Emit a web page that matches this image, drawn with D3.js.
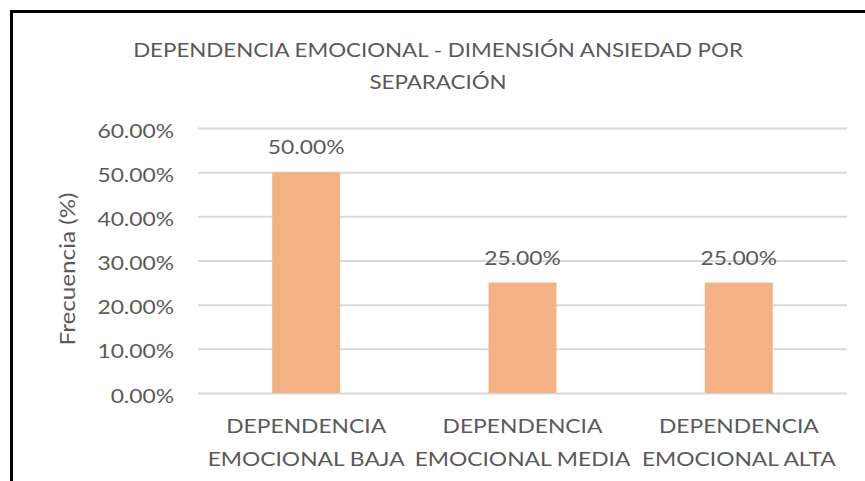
<!DOCTYPE html>
<html><head><meta charset="utf-8">
<script src="https://cdn.jsdelivr.net/npm/d3@7"></script>
<style>body{margin:0;background:#fff}svg{display:block}text{font-family:Lato,"Open Sans",sans-serif;fill:#595959}</style>
</head><body>
<script>
const titleLines = ["DEPENDENCIA EMOCIONAL - DIMENSIÓN ANSIEDAD POR", "SEPARACIÓN"];
const categories = [["DEPENDENCIA","EMOCIONAL BAJA"],["DEPENDENCIA","EMOCIONAL MEDIA"],["DEPENDENCIA","EMOCIONAL ALTA"]];
const values = [0.50, 0.25, 0.25];
const yTicks = [0, 0.1, 0.2, 0.3, 0.4, 0.5, 0.6];
const yTitle = "Frecuencia (%)";

const W = 865, H = 481, SX = 1.17;
const svg = d3.select("body").append("svg").attr("width", W).attr("height", H);

const x = d3.scaleBand().domain(d3.range(values.length)).range([198, 847]).paddingInner(0.686).paddingOuter(0.343);
const y = d3.scaleLinear().domain([0, 0.6]).range([393, 128]);
const fmt = d3.format(".2%");

function txt(g, s, px, py, size, anchor, extra) {
  return g.append("text").attr("transform", `translate(${px},${py}) ${extra||""} scale(${SX},1)`)
    .attr("text-anchor", anchor).attr("font-size", size).text(s);
}

// border
svg.append("path").attr("d", `M11.5,${H} V11.5 H${W}`).attr("fill","none").attr("stroke","#000").attr("stroke-width",3);

// title
titleLines.forEach((t,i)=>txt(svg, t, 438, 57 + i*32, 19.1, "middle"));

// grid + y axis
const yAxis = d3.axisLeft(y).tickValues(yTicks).tickFormat(fmt).tickSize(-(847-198)).tickPadding(24);
const ga = svg.append("g").attr("transform","translate(198,0)").call(yAxis);
ga.select(".domain").remove();
ga.selectAll(".tick line").attr("stroke","#d9d9d9").attr("stroke-width",2);
ga.selectAll(".tick text").remove();
ga.selectAll(".tick").each(function(d){
  txt(d3.select(this), fmt(d), -24, 9, 19.5, "end");
});

// bars
svg.append("g").selectAll("rect").data(values).join("rect")
  .attr("x",(d,i)=>x(i)).attr("width",x.bandwidth())
  .attr("y",d=>y(d)).attr("height",d=>y(0)-y(d)).attr("fill","#F4B183");

// data labels
values.forEach((v,i)=>txt(svg, fmt(v), x(i)+x.bandwidth()/2, y(v)-18, 19.5, "middle"));

// category labels
categories.forEach((c,i)=>c.forEach((l,j)=>txt(svg, l, x(i)+x.bandwidth()/2, 433 + j*33, 19.5, "middle")));

// y title
txt(svg, yTitle, 75, 269, 20.7, "middle", "rotate(-90)");
</script>
</body></html>
